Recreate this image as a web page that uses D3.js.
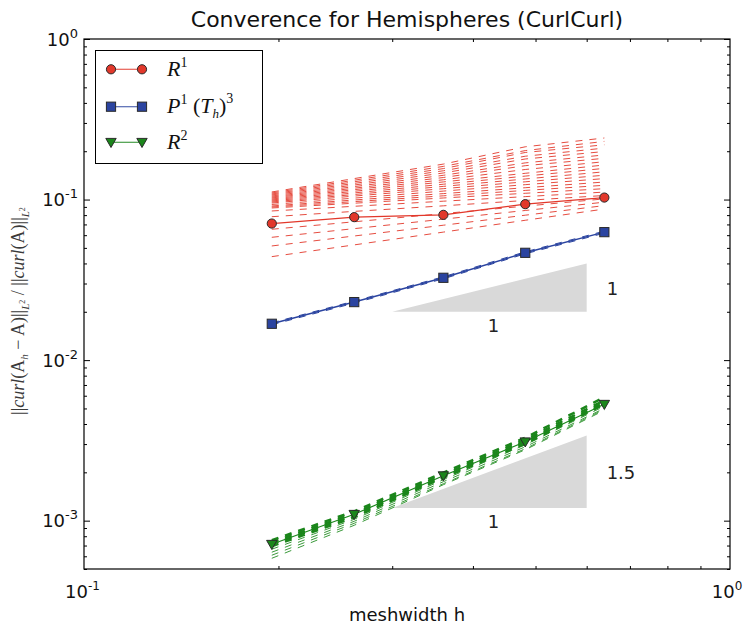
<!DOCTYPE html>
<html><head><meta charset="utf-8">
<script src="https://cdn.jsdelivr.net/npm/d3@7"></script>
<style>body{margin:0;background:#fff}</style>
</head><body>
<svg id="chart" width="743" height="628"></svg>
<script>
// ---- data ----
const meshwidth = [0.1953, 0.262, 0.360, 0.482, 0.639];
const errR1 = [0.0709, 0.0777, 0.0803, 0.0936, 0.1029];
const errP1 = [0.01684, 0.02298, 0.03256, 0.04659, 0.06267];
const errR2 = [7.13e-4, 1.096e-3, 1.906e-3, 3.10e-3, 5.31e-3];

const samplesR1 = [
  [0.1115, 0.1351, 0.1663, 0.2131, 0.2418],
  [0.1099, 0.1320, 0.1609, 0.2018, 0.2303],
  [0.1083, 0.1290, 0.1559, 0.1964, 0.2193],
  [0.1068, 0.1261, 0.1511, 0.1862, 0.2092],
  [0.1052, 0.1232, 0.1464, 0.1789, 0.1992],
  [0.1037, 0.1204, 0.1416, 0.1692, 0.1897],
  [0.1023, 0.1177, 0.1372, 0.1625, 0.1807],
  [0.1008, 0.1152, 0.1328, 0.1539, 0.1721],
  [0.0994, 0.1126, 0.1288, 0.1457, 0.1642],
  [0.0980, 0.1100, 0.1246, 0.1400, 0.1564],
  [0.0966, 0.1075, 0.1208, 0.1343, 0.1489],
  [0.0952, 0.1051, 0.1169, 0.1290, 0.1418],
  [0.0932, 0.1021, 0.1129, 0.1238, 0.1351],
  [0.0912, 0.0994, 0.1089, 0.1185, 0.1286],
  [0.0899, 0.0971, 0.1055, 0.1140, 0.1227],
  [0.0886, 0.0949, 0.1023, 0.1094, 0.1169],
  [0.0849, 0.0908, 0.0977, 0.1043, 0.1113],
  [0.0782, 0.0844, 0.0914, 0.0987, 0.1060],
  [0.0653, 0.0727, 0.0818, 0.0910, 0.1010],
  [0.0582, 0.0659, 0.0755, 0.0855, 0.0963],
  [0.0514, 0.0593, 0.0692, 0.0799, 0.0917],
  [0.0441, 0.0522, 0.0627, 0.0743, 0.0873]
];
const samplesP1 = [
  [0.01708, 0.02331, 0.03303, 0.04727, 0.06358],
  [0.01660, 0.02265, 0.03210, 0.04593, 0.06178]
];
const samplesR2Thick = [
  [7.55e-4, 1.144e-3, 1.990e-3, 3.283e-3, 5.87e-3],
  [7.34e-4, 1.112e-3, 1.934e-3, 3.19e-3, 5.62e-3],
  [7.13e-4, 1.080e-3, 1.879e-3, 3.10e-3, 5.46e-3],
  [6.93e-4, 1.050e-3, 1.852e-3, 3.012e-3, 5.31e-3]
];
const samplesR2Thin = [
  [6.64e-4, 1.020e-3, 1.800e-3, 2.970e-3, 5.16e-3],
  [6.36e-4, 9.91e-4, 1.749e-3, 2.885e-3, 5.01e-3],
  [6.09e-4, 9.63e-4, 1.699e-3, 2.804e-3, 4.94e-3],
  [5.83e-4, 9.36e-4, 1.675e-3, 2.764e-3, 4.87e-3]
];
const slopeX = [0.3, 0.6];
const slopeBase = [0.02, 1.2e-3];
const slopeOrder = [1, 1.5];
const slopeLabels = ["1", "1.5"];
const runLabel = "1";
const yMajorTicks = [1e-3, 1e-2, 1e-1, 1];
const yMajorExp = ["-3", "-2", "-1", "0"];
const xMajorTicks = [0.1, 1];
const xMajorExp = ["-1", "0"];

// ---- layout ----
const svg = d3.select("#chart");
const L = 84, R = 730, T = 39, B = 569;
const x = d3.scaleLog().domain([0.1, 1]).range([L, R]);
const y = d3.scaleLog().domain([5e-4, 1]).range([B, T]);

const cRed = "#e2382b", cBlue = "#2b44a0", cGreen = "#1b861b";
const sans = "DejaVu Sans, sans-serif";
const serif = "Liberation Serif, DejaVu Serif, serif";

const line = d3.line().x((d, i) => x(meshwidth[i])).y(d => y(d));

// slope triangles
slopeBase.forEach((b, k) => {
  const top = b * Math.pow(slopeX[1] / slopeX[0], slopeOrder[k]);
  svg.append("path")
    .attr("d", `M${x(slopeX[0])},${y(b)}L${x(slopeX[1])},${y(b)}L${x(slopeX[1])},${y(top)}Z`)
    .attr("fill", "#d9d9d9");
  svg.append("text").attr("x", x(slopeX[1]) + 20).attr("y", (y(b) + y(top)) / 2 + 7)
    .attr("font-family", sans).attr("font-size", 18).attr("fill", "#222").text(slopeLabels[k]);
  svg.append("text").attr("x", x(Math.sqrt(slopeX[0] * slopeX[1])) + 4).attr("y", y(b) + 20)
    .attr("text-anchor", "middle")
    .attr("font-family", sans).attr("font-size", 18).attr("fill", "#222").text(runLabel);
});

// dashed sample lines
const g = svg.append("g");
samplesR1.forEach(s => g.append("path").attr("d", line(s)).attr("fill", "none")
  .attr("stroke", cRed).attr("stroke-width", 1).attr("stroke-dasharray", "7,7").attr("opacity", 0.9));
samplesP1.forEach(s => g.append("path").attr("d", line(s)).attr("fill", "none")
  .attr("stroke", cBlue).attr("stroke-width", 1).attr("stroke-dasharray", "7,7"));
samplesR2Thin.forEach(s => g.append("path").attr("d", line(s)).attr("fill", "none")
  .attr("stroke", "#3a9a3a").attr("stroke-width", 1).attr("stroke-dasharray", "7,7"));
samplesR2Thick.forEach(s => g.append("path").attr("d", line(s)).attr("fill", "none")
  .attr("stroke", cGreen).attr("stroke-width", 2.5).attr("stroke-dasharray", "7,7"));

// main lines
svg.append("path").attr("d", line(errR1)).attr("fill", "none").attr("stroke", cRed).attr("stroke-width", 1.2);
svg.append("path").attr("d", line(errP1)).attr("fill", "none").attr("stroke", cBlue).attr("stroke-width", 1.5);
svg.append("path").attr("d", line(errR2)).attr("fill", "none").attr("stroke", cGreen).attr("stroke-width", 1.2);

const edge = "#2a2a2a";
function circle(sel, cx, cy) {
  sel.append("circle").attr("cx", cx).attr("cy", cy).attr("r", 4.6)
    .attr("fill", cRed).attr("stroke", edge).attr("stroke-width", 1);
}
function square(sel, cx, cy) {
  sel.append("rect").attr("x", cx - 4.6).attr("y", cy - 4.6).attr("width", 9.2).attr("height", 9.2)
    .attr("fill", cBlue).attr("stroke", edge).attr("stroke-width", 1);
}
function tri(sel, cx, cy) {
  const s = 5.2;
  sel.append("path").attr("d", `M${cx - s},${cy - s * 0.75}L${cx + s},${cy - s * 0.75}L${cx},${cy + s}Z`)
    .attr("fill", cGreen).attr("stroke", edge).attr("stroke-width", 1);
}
errR1.forEach((v, i) => circle(svg, x(meshwidth[i]), y(v)));
errP1.forEach((v, i) => square(svg, x(meshwidth[i]), y(v)));
errR2.forEach((v, i) => tri(svg, x(meshwidth[i]), y(v)));

// axes (ticks inward on all sides)
const yMinor = [];
[1e-4, 1e-3, 1e-2, 1e-1].forEach(d => { for (let k = 2; k <= 9; k++) { const v = d * k; if (v >= 5e-4 && v < 1) yMinor.push(v); } });
const xMinor = [0.2, 0.3, 0.4, 0.5, 0.6, 0.7, 0.8, 0.9];
function styleAxis(a) { a.select(".domain").remove(); a.selectAll("line").attr("stroke", "#000"); a.selectAll("text").remove(); }
styleAxis(svg.append("g").attr("transform", `translate(${L},0)`).call(d3.axisLeft(y).tickValues(yMajorTicks).tickSize(-6).tickFormat("")));
styleAxis(svg.append("g").attr("transform", `translate(${L},0)`).call(d3.axisLeft(y).tickValues(yMinor).tickSize(-3).tickFormat("")));
styleAxis(svg.append("g").attr("transform", `translate(${R},0)`).call(d3.axisRight(y).tickValues(yMajorTicks).tickSize(-6).tickFormat("")));
styleAxis(svg.append("g").attr("transform", `translate(${R},0)`).call(d3.axisRight(y).tickValues(yMinor).tickSize(-3).tickFormat("")));
styleAxis(svg.append("g").attr("transform", `translate(0,${B})`).call(d3.axisBottom(x).tickValues(xMinor).tickSize(-3).tickFormat("")));
styleAxis(svg.append("g").attr("transform", `translate(0,${T})`).call(d3.axisTop(x).tickValues(xMinor).tickSize(-3).tickFormat("")));
svg.append("rect").attr("x", L).attr("y", T).attr("width", R - L).attr("height", B - T)
  .attr("fill", "none").attr("stroke", "#000").attr("stroke-width", 1.2);

// tick labels
yMajorTicks.forEach((v, i) => {
  const t = svg.append("text").attr("x", 78).attr("y", y(v) + 6.5).attr("text-anchor", "end")
    .attr("font-family", sans).attr("font-size", 18).attr("fill", "#111");
  t.append("tspan").text("10");
  t.append("tspan").attr("dy", -8).attr("font-size", 13).text(yMajorExp[i]);
});
xMajorTicks.forEach((v, i) => {
  const t = svg.append("text").attr("x", Math.min(x(v) - 1.5, 727)).attr("y", 598).attr("text-anchor", "middle")
    .attr("font-family", sans).attr("font-size", 18).attr("fill", "#111");
  t.append("tspan").text("10");
  t.append("tspan").attr("dy", -8).attr("font-size", 12).text(xMajorExp[i]);
});

// title and axis labels
svg.append("text").attr("x", (L + R) / 2).attr("y", 27).attr("text-anchor", "middle")
  .attr("font-family", sans).attr("font-size", 22).attr("fill", "#111")
  .text("Converence for Hemispheres (CurlCurl)");
svg.append("text").attr("x", (L + R) / 2).attr("y", 621).attr("text-anchor", "middle")
  .attr("font-family", sans).attr("font-size", 18).attr("fill", "#111").text("meshwidth h");

const yl = svg.append("text").attr("transform", `translate(24,311) rotate(-90)`)
  .attr("text-anchor", "middle").attr("font-family", serif)
  .attr("font-size", 18).attr("fill", "#3a3a3a");
yl.append("tspan").text("||");
yl.append("tspan").attr("font-style", "italic").text("curl");
yl.append("tspan").text("(A");
yl.append("tspan").attr("dy", 4).attr("font-size", 11).attr("font-style", "italic").text("h");
yl.append("tspan").attr("dy", -4).text(" − A)||");
yl.append("tspan").attr("dy", 5).attr("font-size", 11).attr("font-style", "italic").text("L");
yl.append("tspan").attr("dy", -4).attr("font-size", 8).text("2");
yl.append("tspan").attr("dy", -1).text(" / ||");
yl.append("tspan").attr("font-style", "italic").text("curl");
yl.append("tspan").text("(A)||");
yl.append("tspan").attr("dy", 5).attr("font-size", 11).attr("font-style", "italic").text("L");
yl.append("tspan").attr("dy", -4).attr("font-size", 8).text("2");

// legend
const lg = svg.append("g");
lg.append("rect").attr("x", 95.5).attr("y", 50.5).attr("width", 167).attr("height", 113)
  .attr("fill", "#fff").attr("stroke", "#000").attr("stroke-width", 1);
const rows = [69.3, 106.7, 142.3];
const rowColors = [cRed, cBlue, cGreen];
const markers = [circle, square, tri];
rows.forEach((ry, i) => {
  lg.append("line").attr("x1", 111).attr("x2", 142).attr("y1", ry).attr("y2", ry)
    .attr("stroke", rowColors[i]).attr("stroke-width", 1.2).attr("opacity", 0.8);
  markers[i](lg, 111, ry); markers[i](lg, 142, ry);
});
function legText(yb) {
  return lg.append("text").attr("x", 167).attr("y", yb).attr("font-family", serif)
    .attr("font-size", 22).attr("fill", "#111");
}
let t1 = legText(rows[0] + 6.7);
t1.append("tspan").attr("font-style", "italic").text("R");
t1.append("tspan").attr("dy", -9).attr("font-size", 14).text("1");
let t2 = legText(rows[1] + 6.7);
t2.append("tspan").attr("font-style", "italic").text("P");
t2.append("tspan").attr("dy", -9).attr("font-size", 14).text("1");
t2.append("tspan").attr("dy", 9).text(" (");
t2.append("tspan").attr("font-style", "italic").text("T");
t2.append("tspan").attr("dy", 5).attr("font-size", 13).attr("font-style", "italic").text("h");
t2.append("tspan").attr("dy", -5).text(")");
t2.append("tspan").attr("dy", -10).attr("font-size", 14).text("3");
let t3 = legText(rows[2] + 6.7);
t3.append("tspan").attr("font-style", "italic").text("R");
t3.append("tspan").attr("dy", -9).attr("font-size", 14).text("2");
</script>
</body></html>
